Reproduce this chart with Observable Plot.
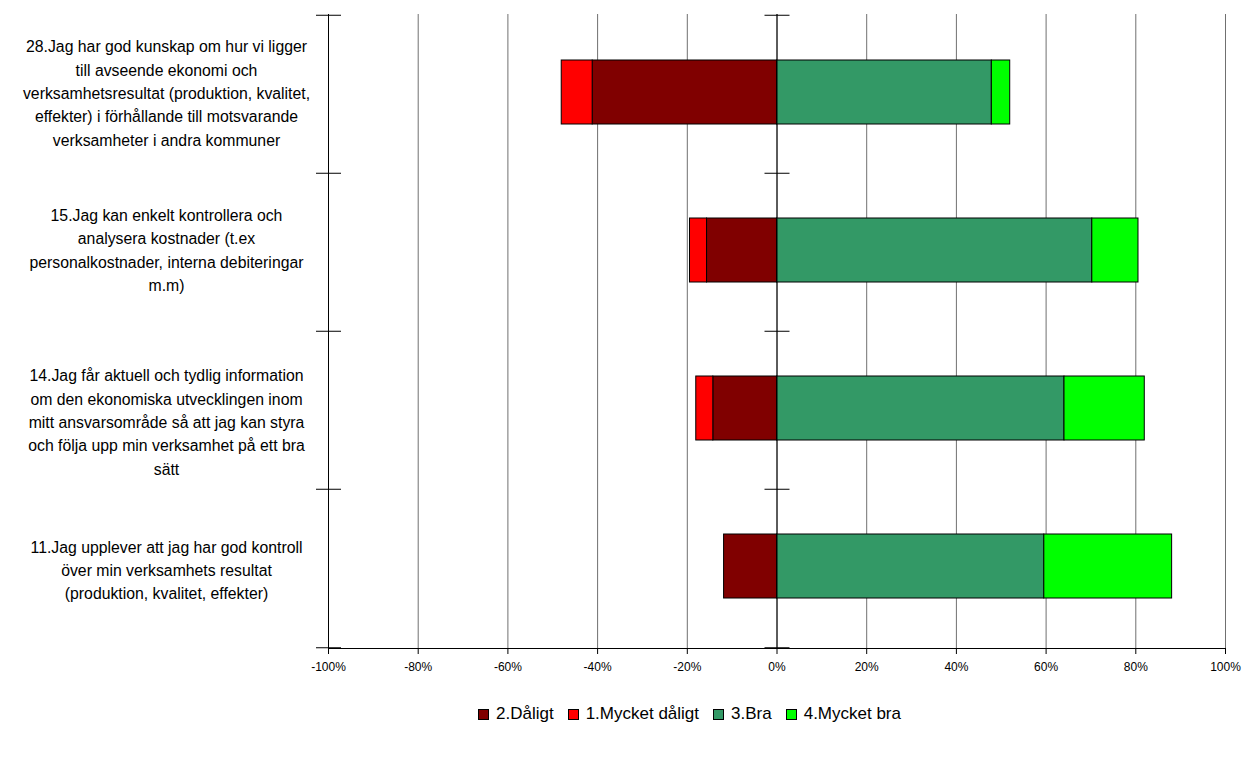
<!DOCTYPE html>
<html>
<head>
<meta charset="utf-8">
<script src="https://cdn.jsdelivr.net/npm/d3@7"></script>
<script src="https://cdn.jsdelivr.net/npm/@observablehq/plot@0.6"></script>
<style>
  html, body { margin: 0; padding: 0; background: #ffffff; }
  #wrap { position: relative; width: 1242px; height: 765px; font-family: "Liberation Sans", Arial, sans-serif; }
  #legend { position: absolute; left: 478px; top: 704px; display: flex; align-items: center; font-size: 17px; color: #000; white-space: nowrap; }
  .item { display: flex; align-items: center; margin-right: 14px; }
  .sw { width: 9px; height: 9px; border: 1px solid #000; margin-right: 7px; }
</style>
</head>
<body>
<div id="wrap"></div>
<script>
const categories = [
  "28.Jag har god kunskap om hur vi ligger\ntill avseende ekonomi och\nverksamhetsresultat (produktion, kvalitet,\neffekter) i förhållande till motsvarande\nverksamheter i andra kommuner",
  "15.Jag kan enkelt kontrollera och\nanalysera kostnader (t.ex\npersonalkostnader, interna debiteringar\nm.m)",
  "14.Jag får aktuell och tydlig information\nom den ekonomiska utvecklingen inom\nmitt ansvarsområde så att jag kan styra\noch följa upp min verksamhet på ett bra\nsätt",
  "11.Jag upplever att jag har god kontroll\növer min verksamhets resultat\n(produktion, kvalitet, effekter)"
];
const seriesNames = ["2.Dåligt", "1.Mycket dåligt", "3.Bra", "4.Mycket bra"];
const seriesColors = ["#800000", "#ff0000", "#339966", "#00ff00"];
const daligt = [41.1, 15.6, 14.2, 11.8];
const mycketDaligt = [6.9, 3.8, 3.8, 0];
const bra = [47.9, 70.3, 64.1, 59.6];
const mycketBra = [4.1, 10.3, 17.9, 28.5];
const xTicks = [-100, -80, -60, -40, -20, 0, 20, 40, 60, 80, 100];
const labelShift = [-3, -4, 10, 0];

const seriesValues = [daligt.map(v => -v), mycketDaligt.map(v => -v), bra, mycketBra];
const rows = [];
seriesNames.forEach((s, si) => {
  categories.forEach((c, ci) => {
    const v = seriesValues[si][ci];
    if (v !== 0) rows.push({cat: c, series: s, value: v});
  });
});

const H = 700, MT = 14, MB = 52;
const STEP = (H - MT - MB) / categories.length;
const boundaries = categories.map(c => ({cat: c, dy: -STEP / 2}))
  .concat([{cat: categories[categories.length - 1], dy: STEP / 2}]);

const boundaryRules = (x0) => boundaries.map(b =>
  Plot.ruleY([b], {y: "cat", x1: x0, x2: x0, insetLeft: -12, insetRight: -13, dy: b.dy, stroke: "#000", strokeWidth: 1})
);

const labelMarks = categories.map((c, i) =>
  Plot.text([c], {y: d => d, text: d => d, frameAnchor: "left", dx: -162, dy: labelShift[i], textAnchor: "middle", fontSize: 15.8, lineHeight: 1.48, fill: "#000"})
);

const chart = Plot.plot({
  width: 1242,
  height: H,
  marginLeft: 328,
  marginRight: 17,
  marginTop: MT,
  marginBottom: MB,
  style: {fontFamily: "'Liberation Sans', Arial, sans-serif", background: "#ffffff", color: "#000"},
  x: {domain: [-100, 100], label: null},
  y: {domain: categories, paddingInner: 0.595, paddingOuter: 0.2975, axis: null},
  color: {domain: seriesNames, range: seriesColors},
  marks: [
    Plot.ruleX(xTicks, {stroke: "#707070", strokeWidth: 1}),
    Plot.barX(rows, {x: "value", y: "cat", fill: "series", stroke: "#000", strokeWidth: 1, dy: -2}),
    Plot.ruleX([0], {stroke: "#000", strokeWidth: 1}),
    Plot.ruleX([-100], {stroke: "#000", strokeWidth: 1}),
    ...boundaryRules(-100),
    ...boundaryRules(0),
    Plot.frame({anchor: "bottom", stroke: "#000"}),
    Plot.axisX({ticks: xTicks, tickFormat: d => `${d}%`, tickSize: 6, tickPadding: 8, fontSize: 12, label: null, stroke: "#000"}),
    ...labelMarks
  ]
});

const wrap = document.getElementById("wrap");
wrap.appendChild(chart);
const legend = document.createElement("div");
legend.id = "legend";
seriesNames.forEach((s, i) => {
  const it = document.createElement("div");
  it.className = "item";
  const sw = document.createElement("div");
  sw.className = "sw";
  sw.style.background = seriesColors[i];
  const t = document.createElement("span");
  t.textContent = s;
  it.appendChild(sw);
  it.appendChild(t);
  legend.appendChild(it);
});
wrap.appendChild(legend);
</script>
</body>
</html>
